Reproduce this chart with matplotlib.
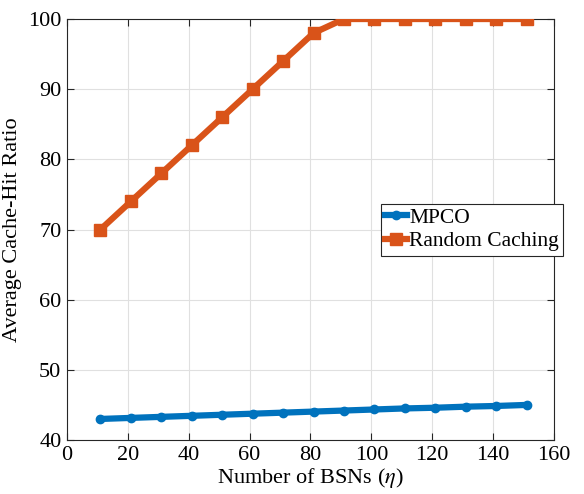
import matplotlib.pyplot as plt

plt.rcParams['font.family'] = ['Liberation Serif', 'DejaVu Serif']
plt.rcParams['mathtext.fontset'] = 'stix'

bsns = [11, 21, 31, 41, 51, 61, 71, 81, 91, 101, 111, 121, 131, 141, 151]
mpco = [43.0, 43.15, 43.3, 43.45, 43.6, 43.75, 43.9, 44.05, 44.2, 44.35,
        44.5, 44.6, 44.75, 44.85, 45.0]
random_caching = [70, 74, 78, 82, 86, 90, 94, 98, 100, 100, 100, 100, 100, 100, 100]

fig = plt.figure(figsize=(5.84, 4.94), dpi=100)
ax = fig.add_axes([0.1147, 0.1093, 0.8339, 0.8522])

ax.plot(bsns, mpco, color='#0072BD', linewidth=4.5, marker='o', markersize=6,
        label='MPCO', zorder=3)
ax.plot(bsns, random_caching, color='#D95319', linewidth=4.5, marker='s', markersize=9,
        label='Random Caching', zorder=3)

ax.set_xlim(0, 160)
ax.set_ylim(40, 100)
ax.set_xticks(range(0, 161, 20))
ax.set_yticks(range(40, 101, 10))
ax.grid(True, color='#e0e0e0', linewidth=0.8)
ax.set_axisbelow(True)
ax.tick_params(direction='in', top=True, right=True, labelsize=16, length=5,
               color='#262626', pad=4)
for s in ax.spines.values():
    s.set_color('#262626')
    s.set_linewidth(0.8)

ax.set_xlabel(r'Number of BSNs ($\eta$)', fontsize=16, labelpad=1)
ax.set_ylabel('Average Cache-Hit Ratio', fontsize=16, labelpad=4)

leg = ax.legend(loc='center left', bbox_to_anchor=(0.645, 0.5), fontsize=15.5,
                fancybox=False, edgecolor='#262626', framealpha=1,
                handlelength=1.0, handletextpad=0.1, borderpad=0.2,
                labelspacing=0.15, borderaxespad=0)
leg.get_frame().set_linewidth(0.8)

fig.savefig('out.png', dpi=100)
